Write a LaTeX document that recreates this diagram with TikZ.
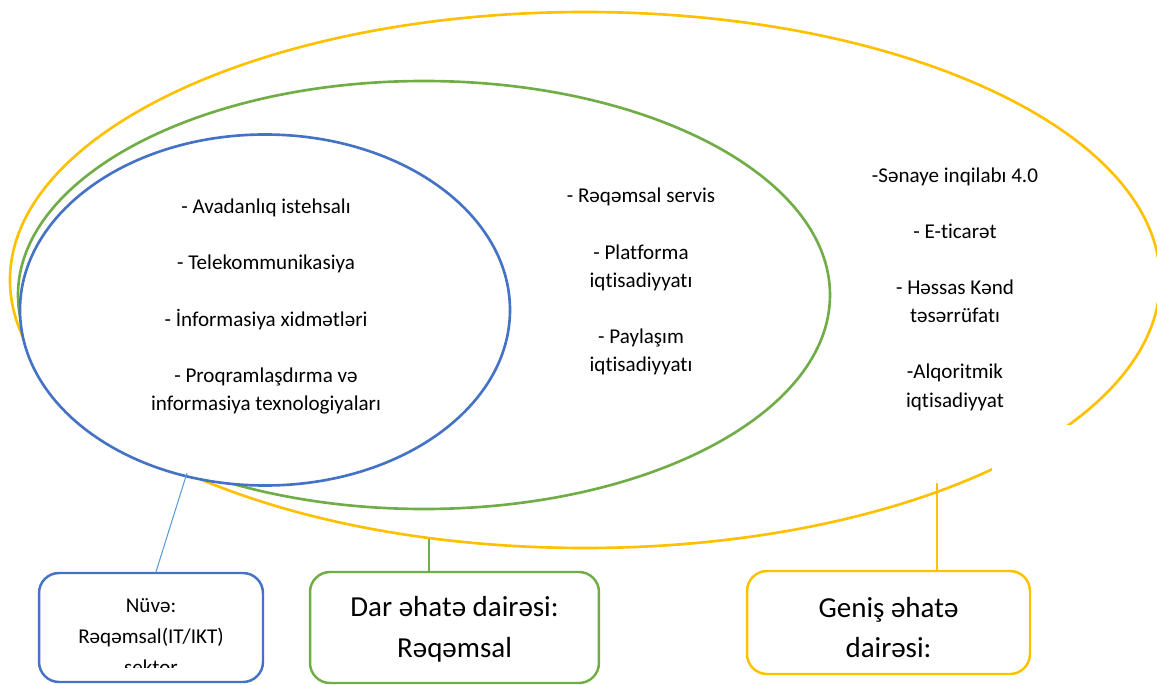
\documentclass[tikz,border=0pt]{standalone}
\usepackage{fontspec}
\setmainfont[Ligatures = NoCommon]{Carlito}
\usepackage{tikz}

\definecolor{ringblue}{HTML}{4472C4}
\definecolor{ringgreen}{HTML}{70AD47}
\definecolor{ringyellow}{HTML}{FFC000}
\definecolor{linkblue}{HTML}{5B9BD5}

\begin{document}
\begin{tikzpicture}[x = 0.02cm, y = 0.02cm,
    ring/.style = {line width = 1.5pt},
    scopebox/.style = {draw, line width = 1.4pt, rounded corners = 0.4cm, inner sep = 0pt},
    itemtext/.style = {align = center, font = \fontsize{12}{16}\selectfont, inner sep = 0pt},
    bigtext/.style = {align = center, font = \fontsize{16.5}{23.2}\selectfont, inner sep = 0pt}]
  \useasboundingbox (0, 0) rectangle (1157, 684);
  % the three rings, outer first
  \draw [ring, ringyellow] (585, 404) ellipse [x radius = 575, y radius = 268];
  \fill [white] (992, 124) rectangle (1160, 259);
  \draw [ring, ringgreen] (424, 389) ellipse [x radius = 406, y radius = 214];
  \draw [ring, ringblue, fill = white] (265, 374) ellipse [x radius = 245, y radius = 175.5];

  \node [itemtext] (core) at (266, 377.5) {- Avadanlıq istehsalı\\[16pt] - Telekommunikasiya\\[16pt] - İnformasiya xidmətləri\\[16pt] - Proqramlaşdırma və\\ informasiya texnologiyaları};
  \node [itemtext] (narrow) at (641, 402.5) {- Rəqəmsal servis\\[16pt] - Platforma\\ iqtisadiyyatı\\[16pt] - Paylaşım\\ iqtisadiyyatı};
  \node [itemtext] (broad) at (955, 395) {-Sənaye inqilabı 4.0\\[16pt] - E-ticarət\\[16pt] - Həssas Kənd\\ təsərrüfatı\\[16pt] -Alqoritmik\\ iqtisadiyyat};

  % boxes below
  \node [scopebox, draw = ringblue, minimum width = 4.48cm, minimum height = 2.18cm] (nuve) at (151, 56.5) {};
  \begin{scope}
    \clip (39, 17) rectangle (263, 111);
    \node [itemtext, font = \fontsize{12}{17.6}\selectfont] (nuvetext) at (151, 47) {Nüvə:\\ Rəqəmsal(IT/IKT)\\ sektor};
  \end{scope}
  \node [scopebox, draw = ringgreen, minimum width = 5.78cm, minimum height = 2.22cm] (dar) at (454.5, 56.5) {};
  \node [bigtext] (dartext) at (454.5, 54.5) {Dar əhatə dairəsi:\\ Rəqəmsal};
  \node [scopebox, draw = ringyellow, minimum width = 5.66cm, minimum height = 2.06cm] (genis) at (888.5, 61.5) {};
  \node [bigtext] (genistext) at (888.5, 56.5) {Geniş əhatə\\ dairəsi:};

  \coordinate (nuvelink) at (187, 211);
  \coordinate (darlink) at (429, 145);
  \coordinate (genislink) at (937, 201);
  \draw [linkblue, line width = 0.6pt] (nuvelink) -- ([xshift = 0.1cm] nuve.north);
  \draw [ringgreen, line width = 1.1pt] (darlink) -- (darlink |- dar.north);
  \draw [ringyellow, line width = 0.7pt] (genislink) -- (genislink |- genis.north);
\end{tikzpicture}
\end{document}
